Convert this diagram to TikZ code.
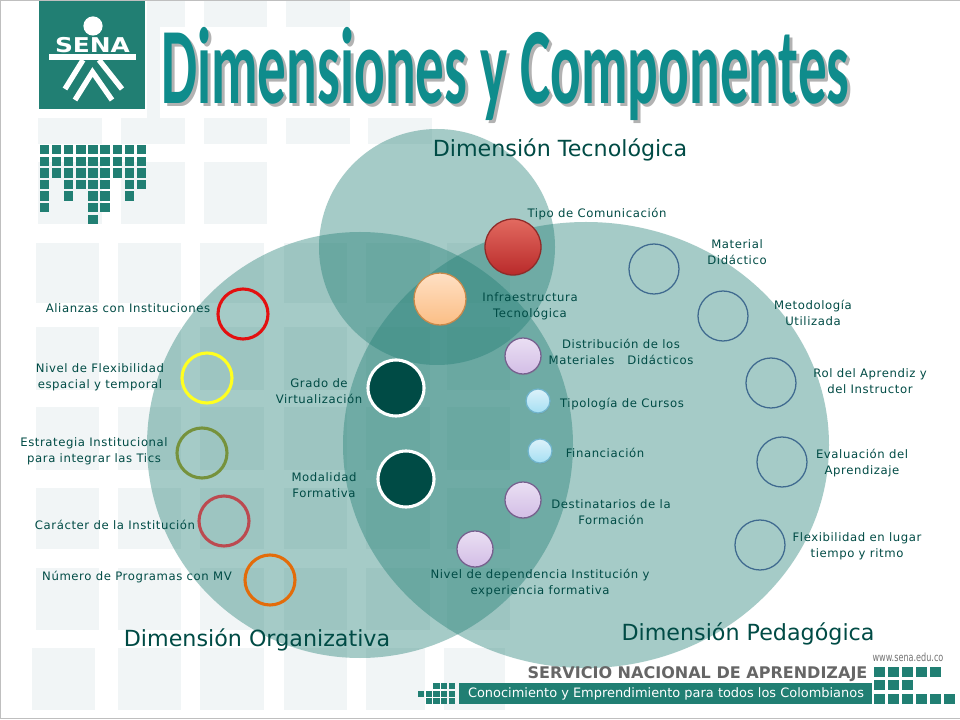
\documentclass[tikz,border=0pt]{standalone}
\usepackage{fontspec}
\setmainfont{DejaVu Sans}
\newfontfamily\labelfont[LetterSpace=5]{DejaVu Sans}
\newfontfamily\titlefont{Carlito}
\usetikzlibrary{shadows}
\definecolor{senagreen}{HTML}{217F73}
\definecolor{vennfill}{HTML}{1F7D73}
\definecolor{inkgreen}{HTML}{004B45}
\definecolor{tilegray}{HTML}{F1F5F6}
\definecolor{titleteal}{HTML}{0F8C8C}
\definecolor{ringblue}{HTML}{3F6A8F}
\definecolor{redtop}{HTML}{E26A60}
\definecolor{redbot}{HTML}{B92A2A}
\definecolor{redrim}{HTML}{8F2A28}
\definecolor{peachtop}{HTML}{FFE0C4}
\definecolor{peachbot}{HTML}{FBBE85}
\definecolor{peachrim}{HTML}{C88A4A}
\definecolor{liltop}{HTML}{EADFF3}
\definecolor{lilbot}{HTML}{D3BEE6}
\definecolor{lilrim}{HTML}{77608F}
\definecolor{bluetop}{HTML}{DDF2FA}
\definecolor{bluebot}{HTML}{A5DFF3}
\definecolor{bluerim}{HTML}{70B4CC}
\definecolor{ringred}{HTML}{E31010}
\definecolor{ringyellow}{HTML}{FFFF20}
\definecolor{ringolive}{HTML}{76923C}
\definecolor{ringrose}{HTML}{BC4A50}
\definecolor{ringorange}{HTML}{E36C0A}
\tikzset{
  venn/.style={fill=vennfill,fill opacity=0.4},
  tile/.style={fill=tilegray},
  block/.style={fill=senagreen},
  lbl/.style={text=inkgreen,align=center,font=\labelfont\fontsize{8.3}{11.2}\selectfont},
  biglbl/.style={text=inkgreen,font=\fontsize{15.8}{17}\selectfont},
  dot/.style={circle,inner sep=0pt,minimum size=#1*0.025cm},
  ring/.style={dot=50,draw=#1,line width=2.2pt},
  thinring/.style={dot=50,draw=ringblue,line width=0.9pt},
  ball/.style n args={4}{dot=#1,draw=#4,line width=0.9pt,top color=#2,bottom color=#3,
    drop shadow={shadow xshift=0.4pt,shadow yshift=-0.8pt,opacity=0.3}},
  darkball/.style={dot=56,fill=inkgreen,draw=white,line width=2.2pt},
}
\newcommand{\titletext}{\resizebox*{17.2cm}{2.33cm}{\titlefont\bfseries Dimensiones y Componentes}}
\begin{document}
\begin{tikzpicture}[x=0.025cm,y=-0.025cm]
\useasboundingbox (0,0) rectangle (960,720);
\fill[white] (0,0) rectangle (960,720);
% pale tiles behind everything
\foreach \x/\xx in {147/185,204/267,286/350} \fill[tile] (\x,0) rectangle (\xx,27);
\fill[tile] (147,27) rectangle (160,118);
\foreach \x/\xx in {38/102,121/185,204/267,286/350,368/432} \fill[tile] (\x,118) rectangle (\xx,144);
\foreach \x/\xx in {38/102,121/185,204/267} \fill[tile] (\x,162) rectangle (\xx,224);
\foreach \y/\yy in {243/303,327/390,407/470,488/549,568/630}
  \foreach \x/\xx in {36/99,118/181,200/264,284/347,366/430,447/510}
    \fill[tile] (\x,\y) rectangle (\xx,\yy);
\foreach \x/\xx in {32/95,118/181,200/264,284/347,366/425,444/505} \fill[tile] (\x,648) rectangle (\xx,710);
% the three dimensions
\fill[venn] (437,247) circle [radius=118];
\fill[venn] (360,445) circle [radius=213];
\fill[venn] (586,445) ellipse [x radius=243,y radius=223];
% logo
\fill[block] (39,1) rectangle (145,109);
\node[circle,fill=white,inner sep=0pt,minimum size=0.48cm] (head) at (93,26) {};
\node[text=white,font=\fontsize{14.5}{15}\selectfont\bfseries] (sena) at (92.5,45) {\scalebox{1.22}[1]{SENA}};
\fill[white] (49,54) rectangle (136,60);
\draw[white,line width=3.8pt] (83,60) -- (65,89);
\draw[white,line width=3.8pt] (99,60) -- (122,89);
\draw[white,line width=3.8pt] (75,100) -- (92.5,72) -- (112,100);
% small squares under the logo
\foreach \y/\cols in {0/{0,1,2,3,4,5,6,7,8},1/{0,1,2,3,4,5,6,7,8},2/{0,1,2,3,4,5,6,7,8},3/{0,2,3,4,5,7,8},4/{0,2,4,5,7},5/{0,4,5},6/{4}}
  \foreach \x in \cols
    \fill[block] (39.7+12.15*\x,145+11.6*\y) rectangle ++(9.4,9.4);
% title
\node[opacity=0.3,text=black] (titleshadow) at (508.5,77) {\titletext};
\node[text=titleteal] (title) at (505.5,74) {\titletext};
% balls
\node[ball={56}{redtop}{redbot}{redrim}] (comunicacion) at (513,247) {};
\node[ball={52}{peachtop}{peachbot}{peachrim}] (infra) at (440,299) {};
\node[ball={36}{liltop}{lilbot}{lilrim}] (distribucion) at (523,356) {};
\node[ball={24}{bluetop}{bluebot}{bluerim}] (tipologia) at (538,401) {};
\node[ball={24}{bluetop}{bluebot}{bluerim}] (financiacion) at (540,451) {};
\node[ball={36}{liltop}{lilbot}{lilrim}] (destinatarios) at (523,500) {};
\node[ball={36}{liltop}{lilbot}{lilrim}] (dependencia) at (475,549) {};
\node[darkball] (grado) at (396,388) {};
\node[darkball] (modalidad) at (406,479) {};
% rings
\node[ring=ringred] (alianzas) at (243,314) {};
\node[ring=ringyellow] (flexibilidad) at (207,378) {};
\node[ring=ringolive] (estrategia) at (202,453) {};
\node[ring=ringrose] (caracter) at (224,521) {};
\node[ring=ringorange] (programas) at (270,580) {};
\node[thinring] (material) at (654,269) {};
\node[thinring] (metodologia) at (723,316) {};
\node[thinring] (rol) at (771,383) {};
\node[thinring] (evaluacion) at (782,462) {};
\node[thinring] (flexlugar) at (760,545) {};
% labels
\node[biglbl] (tecnologica) at (560,150) {Dimensión Tecnológica};
\node[biglbl] (organizativa) at (257,640) {Dimensión Organizativa};
\node[biglbl] (pedagogica) at (748,634) {Dimensión Pedagógica};
\node[lbl] (l1) at (597,214) {Tipo de Comunicación};
\node[lbl] (l2) at (737,252) {Material\\Didáctico};
\node[lbl] (l3) at (813,313) {Metodología\\Utilizada};
\node[lbl] (l4) at (870,381) {Rol del Aprendiz y\\del Instructor};
\node[lbl] (l5) at (862,463) {Evaluación del\\Aprendizaje};
\node[lbl] (l6) at (857,546) {Flexibilidad en lugar\\tiempo y ritmo};
\node[lbl] (l7) at (530,306) {Infraestructura\\Tecnológica};
\node[lbl] (l8) at (621,352) {Distribución de los\\Materiales \ \ Didácticos};
\node[lbl] (l9) at (622,404) {Tipología de Cursos};
\node[lbl] (l10) at (605,453) {Financiación};
\node[lbl] (l11) at (611,512) {Destinatarios de la\\Formación};
\node[lbl] (l12) at (540,583) {Nivel de dependencia Institución y\\experiencia formativa};
\node[lbl] (l13) at (319,391) {Grado de\\Virtualización};
\node[lbl] (l14) at (324,485) {Modalidad\\Formativa};
\node[lbl] (l15) at (128,308) {Alianzas con Instituciones};
\node[lbl] (l16) at (100,377) {Nivel de Flexibilidad\\espacial y temporal};
\node[lbl] (l17) at (94,451) {Estrategia Institucional\\para integrar las Tics};
\node[lbl] (l18) at (115,525) {Carácter de la Institución};
\node[lbl] (l19) at (137,577) {Número de Programas con MV};
% footer
\node[text=black!60,font=\fontsize{11.4}{12}\selectfont\bfseries] (servicio) at (697.5,674) {SERVICIO NACIONAL DE APRENDIZAJE};
\node[text=black!55,font=\fontsize{8}{8}\selectfont] (web) at (908,657) {\scalebox{0.72}[1]{www.sena.edu.co}};
\fill[block] (459,683) rectangle (872,704);
\node[text=white,font=\fontsize{9.2}{10}\selectfont] (lema) at (666,693.5) {Conocimiento y Emprendimiento para todos los Colombianos};
\foreach \y/\cols in {667/{0,1,2,3,4},680/{0,1,2},694/{0,1,2,3,4,5}}
  \foreach \x in \cols
    \fill[block] (874+14*\x,\y) rectangle ++(11,10);
\foreach \y/\cols in {683/{2,3,4},690.5/{0,1,2,3,4},698/{1,2,3,4}}
  \foreach \x in \cols
    \fill[block] (418+7.7*\x,\y) rectangle ++(6.3,6);
% page edge
\draw[black!25,line width=0.8pt] (0.5,718.5) -- (0.5,0.5) -- (960,0.5);
\draw[black!25,line width=0.8pt] (0.5,718.5) -- (960,718.5);
\end{tikzpicture}
\end{document}
